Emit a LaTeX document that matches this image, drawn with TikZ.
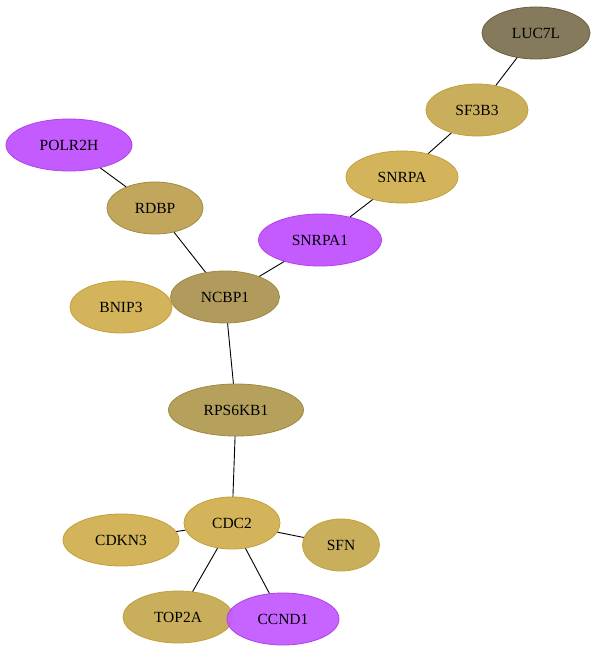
\documentclass[tikz,border=0pt]{standalone}
\usepackage{fontspec}
\setmainfont{Liberation Serif}
\usetikzlibrary{shapes.geometric}
\definecolor{cdark}{HTML}{857A5C}
\definecolor{cdarkB}{HTML}{6B5E3C}
\definecolor{cgold}{HTML}{D3B45A}
\definecolor{cgoldB}{HTML}{C2A03A}
\definecolor{cgold2}{HTML}{C9AF5C}
\definecolor{ctan}{HTML}{C1A65C}
\definecolor{ctan2}{HTML}{B09A5C}
\definecolor{ctan3}{HTML}{B5A05C}
\definecolor{ctanB}{HTML}{A08A40}
\definecolor{cpur}{HTML}{C45BFF}
\definecolor{cpurB}{HTML}{B040E8}
\tikzset{
  gene/.style={ellipse, draw, line width=0.8pt, inner sep=0pt, font=\fontsize{15.5}{15.5}\selectfont, text=black},
  dark/.style={gene, fill=cdark, draw=cdarkB},
  gold/.style={gene, fill=cgold, draw=cgoldB},
  gold2/.style={gene, fill=cgold2, draw=cgoldB},
  tan/.style={gene, fill=ctan, draw=ctanB},
  tan2/.style={gene, fill=ctan2, draw=ctanB},
  tan3/.style={gene, fill=ctan3, draw=ctanB},
  pur/.style={gene, fill=cpur, draw=cpurB},
  link/.style={draw=black, line width=0.9pt}
}
\begin{document}
\begin{tikzpicture}[x=1pt,y=-1pt]
\useasboundingbox (0,0) rectangle (597,653);
\node[dark, minimum width=108pt, minimum height=52pt] (LUC7L) at (536,33) {LUC7L};
\node[gold2, minimum width=102pt, minimum height=52pt] (SF3B3) at (477,110) {SF3B3};
\node[gold, minimum width=112pt, minimum height=52pt] (SNRPA) at (402,177) {SNRPA};
\node[pur, minimum width=123pt, minimum height=52pt] (SNRPA1) at (320,240) {SNRPA1};
\node[pur, minimum width=126pt, minimum height=52pt] (POLR2H) at (69,145) {POLR2H};
\node[tan, minimum width=96pt, minimum height=52pt] (RDBP) at (155,208) {RDBP};
\node[tan2, minimum width=109pt, minimum height=52pt] (NCBP1) at (225,297) {NCBP1};
\node[gold, minimum width=102pt, minimum height=52pt] (BNIP3) at (121,307) {BNIP3};
\node[tan3, minimum width=135pt, minimum height=52pt] (RPS6KB1) at (236,410) {RPS6KB1};
\node[gold, minimum width=96pt, minimum height=52pt] (CDC2) at (232,523) {CDC2};
\node[gold, minimum width=116pt, minimum height=52pt] (CDKN3) at (121,540) {CDKN3};
\node[gold2, minimum width=77pt, minimum height=52pt] (SFN) at (341,545) {SFN};
\node[gold2, minimum width=110pt, minimum height=52pt] (TOP2A) at (178,617) {TOP2A};
\node[pur, minimum width=112pt, minimum height=52pt, fill opacity=0.95, text opacity=1] (CCND1) at (283,619) {CCND1};
\draw[link] (LUC7L) -- (SF3B3);
\draw[link] (SF3B3) -- (SNRPA);
\draw[link] (SNRPA) -- (SNRPA1);
\draw[link] (SNRPA1) -- (NCBP1);
\draw[link] (POLR2H) -- (RDBP);
\draw[link] (RDBP) -- (NCBP1);
\draw[link] (NCBP1) -- (RPS6KB1);
\draw[link] (RPS6KB1) -- (CDC2);
\draw[link] (CDC2) -- (CDKN3);
\draw[link] (CDC2) -- (SFN);
\draw[link] (CDC2) -- (TOP2A);
\draw[link] (CDC2) -- (CCND1);
\end{tikzpicture}
\end{document}
